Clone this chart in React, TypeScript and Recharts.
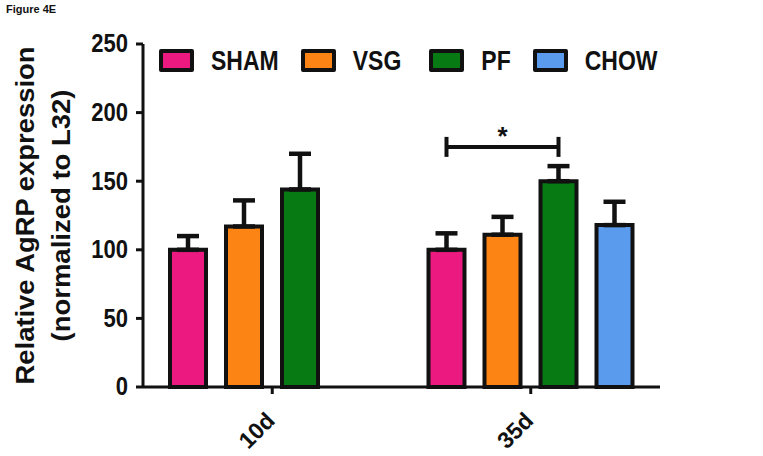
import { BarChart, Bar, XAxis, YAxis, ErrorBar, Legend, LabelList } from 'recharts'

const groups = ['10d', '35d']
const seriesNames = ['SHAM', 'VSG', 'PF', 'CHOW']
const seriesColors = ['#ec1a80', '#fb8414', '#077a14', '#5b9bee']

const shamMean = [100, 100]
const vsgMean = [117, 111]
const pfMean = [144, 150]
const chowMean: (number | null)[] = [null, 118]

const shamSem = [10, 12]
const vsgSem = [19, 13]
const pfSem = [26, 11]
const chowSem = [0, 17]

const yTicks = [0, 50, 100, 150, 200, 250]
const bracketValue = 175

const BAR_SIZE = 36
const BAR_GAP = 20
const FONT = '"Liberation Sans", Arial, sans-serif'

const data = groups.map((g, i) => ({
  group: g,
  sham: shamMean[i],
  vsg: vsgMean[i],
  pf: pfMean[i],
  chow: chowMean[i],
  shamErr: [0, shamSem[i]],
  vsgErr: [0, vsgSem[i]],
  pfErr: [0, pfSem[i]],
  chowErr: [0, chowSem[i]],
}))

const YTick = ({ x, y, payload }: any) => (
  <text
    x={x}
    y={y}
    textAnchor="end"
    dominantBaseline="central"
    fontSize={22}
    fontWeight="bold"
    fontFamily={FONT}
    fill="#111"
    transform={`translate(0 ${y}) scale(1 1.14) translate(0 ${-y})`}
  >
    {payload.value}
  </text>
)

const XTick = ({ x, y, payload }: any) => (
  <text
    x={x + 4}
    y={y + 26}
    textAnchor="end"
    fontSize={23}
    fontWeight="bold"
    fontFamily={FONT}
    fill="#111"
    transform={`rotate(-45 ${x + 4} ${y + 26})`}
  >
    {payload.value}
  </text>
)

const YLabel = ({ viewBox }: any) => {
  const cy = viewBox.y + viewBox.height / 2
  return (
    <g fontFamily={FONT} fontWeight="bold" fontSize={25} fill="#111">
      <text x={34} y={cy} textAnchor="middle" textLength={338} lengthAdjust="spacingAndGlyphs" transform={`rotate(-90 34 ${cy})`}>
        Relative AgRP expression
      </text>
      <text x={70} y={cy} textAnchor="middle" textLength={252} lengthAdjust="spacingAndGlyphs" transform={`rotate(-90 70 ${cy})`}>
        (normalized to L32)
      </text>
    </g>
  )
}

// significance bracket 35d SHAM vs PF, drawn from the SHAM bar
const Bracket = (props: any) => {
  const { x, y, width, height, value, index } = props
  if (index !== 1) return null
  const x1 = x + width / 2
  const x2 = x1 + 2 * (BAR_SIZE + BAR_GAP)
  const base = y + height
  const by = base - (bracketValue * height) / value
  return (
    <g>
      <line x1={x1} y1={by} x2={x2} y2={by} stroke="#111" strokeWidth={4} />
      <line x1={x1} y1={by - 10} x2={x1} y2={by + 10} stroke="#111" strokeWidth={4} />
      <line x1={x2} y1={by - 10} x2={x2} y2={by + 10} stroke="#111" strokeWidth={4} />
      <text x={(x1 + x2) / 2} y={by - 2} textAnchor="middle" fontSize={26} fontWeight="bold" fontFamily={FONT} fill="#111">
        *
      </text>
    </g>
  )
}

const renderLegend = () => (
  <div style={{ display: 'flex', alignItems: 'center', fontFamily: FONT }}>
    {seriesNames.map((name, i) => (
      <div key={name} style={{ display: 'flex', alignItems: 'center', marginRight: i === 1 ? 28 : 22 }}>
        <span
          style={{
            display: 'inline-block',
            width: 27,
            height: 15,
            background: seriesColors[i],
            border: '4px solid #111',
            borderRadius: 2,
            marginRight: 17,
          }}
        />
        <span style={{ fontSize: 23, fontWeight: 'bold', color: '#111', display: 'inline-block', transform: 'scaleY(1.2)' }}>
          {name}
        </span>
      </div>
    ))}
  </div>
)

export default function App() {
  const keys = ['sham', 'vsg', 'pf', 'chow']
  return (
    <div style={{ position: 'absolute', left: 0, top: 0, width: 763, height: 456, background: '#fff' }}>
      <div style={{ position: 'absolute', left: 6, top: 3, fontFamily: FONT, fontWeight: 'bold', fontSize: 11, color: '#111' }}>
        Figure 4E
      </div>
      <BarChart
        width={763}
        height={456}
        data={data}
        margin={{ top: 17, right: 103, bottom: 0, left: 0 }}
        barSize={BAR_SIZE}
        barGap={BAR_GAP}
      >
        <XAxis
          dataKey="group"
          height={69}
          axisLine={{ stroke: '#111', strokeWidth: 3 }}
          tickLine={{ stroke: '#111', strokeWidth: 3 }}
          tickSize={7}
          tick={<XTick />}
          interval={0}
        />
        <YAxis
          width={143}
          domain={[0, 250]}
          ticks={yTicks}
          interval={0}
          axisLine={{ stroke: '#111', strokeWidth: 3 }}
          tickLine={{ stroke: '#111', strokeWidth: 3 }}
          tickSize={7}
          tickMargin={8}
          tick={<YTick />}
          label={<YLabel />}
        />
        <Legend
          content={renderLegend}
          verticalAlign="top"
          wrapperStyle={{ position: 'absolute', top: 47, left: 159, width: 600 }}
        />
        {keys.map((k, i) => (
          <Bar
            key={k}
            dataKey={k}
            name={seriesNames[i]}
            fill={seriesColors[i]}
            stroke="#111"
            strokeWidth={4}
            isAnimationActive={false}
          >
            <ErrorBar dataKey={`${k}Err`} width={11} stroke="#111" strokeWidth={4.5} direction="y" />
            {k === 'sham' && <LabelList dataKey="sham" content={<Bracket />} />}
          </Bar>
        ))}
      </BarChart>
    </div>
  )
}
